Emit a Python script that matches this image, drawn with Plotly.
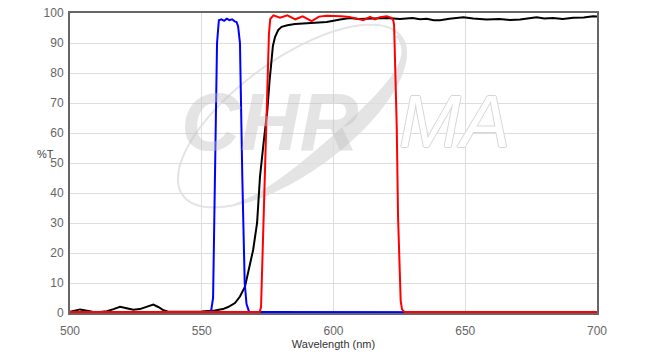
import numpy as np
import plotly.graph_objects as go

# ---- data ----
blue_wl = [500, 553.0, 553.5, 554.3, 555.0, 555.8, 556.5, 557.5, 558.5, 559.5, 560.5, 561.5, 562.5, 563.2,
           563.8, 564.5, 565.4, 566.3, 567.0, 568.0, 700]
blue_t = [0.2, 0.2, 0.4, 5, 45, 90, 97.6, 97.9, 97.4, 98.1, 97.6, 97.9, 97.2, 97.0,
          95.5, 90, 45, 10, 3, 0.3, 0.2]

red_wl = [500, 572.0, 572.5, 573.0, 574.0, 575.0, 575.5, 576.0, 577.2, 579.7, 582.5, 585.5, 588.3, 591.7,
          594.5, 597.5, 600.0, 603.0, 606.0, 608.8, 611.3, 613.9, 615.7, 617.6, 620.2, 622.0, 622.7,
          623.0, 623.5, 624.0, 624.5, 625.0, 625.5, 626.0, 627.0, 700]
red_t = [0.3, 0.3, 2, 17, 48, 80, 93, 98, 99.2, 98.4, 99.2, 97.9, 98.9, 97.3,
         98.8, 99.1, 99.1, 98.9, 98.7, 98.2, 97.6, 98.7, 97.9, 98.6, 98.9, 98.4, 97.5,
         96, 82, 62, 32, 13, 4, 1.2, 0.3, 0.3]

black_wl = [500, 501.5, 503.8, 506, 508.5, 511.4, 514, 516.5, 519, 521.5, 524, 526.5, 529, 531.6,
            533.5, 535.5, 537, 540, 545, 550, 555, 558, 560, 562.6, 564.5, 566.4, 568, 569.5, 571,
            572.1, 573.5, 574.9, 575.7, 576.3, 577.0, 577.8, 579, 580.3, 582.5, 585.4, 591, 597.4,
            602.5, 606.3, 609.5, 612.6, 616, 620.2, 625.2, 630, 632.8, 635.4, 638, 640.4, 644, 649.3,
            653, 658.1, 663, 667, 670.8, 674, 677.1, 680, 683.3, 687, 691, 695, 698.5, 700]
black_t = [0.4, 0.8, 1.2, 0.8, 0.4, 0.3, 0.6, 1.3, 2.1, 1.6, 1.1, 1.3, 2.0, 2.8,
           2.0, 0.9, 0.5, 0.4, 0.4, 0.5, 0.8, 1.3, 2.0, 3.3, 5.5, 8.8, 15, 21, 30,
           45.4, 57, 67.7, 77, 84, 89, 92, 94.3, 95.4, 95.9, 96.3, 96.7, 97.0,
           97.8, 98.3, 98.0, 98.1, 98.4, 98.3, 98.0, 98.3, 97.9, 98.1, 97.6, 97.6, 98.1, 98.6,
           98.2, 97.8, 98.0, 97.7, 97.8, 98.1, 98.6, 98.2, 98.3, 98.0, 98.4, 98.5, 98.9, 98.8]

x_ticks = [500, 550, 600, 650, 700]
y_ticks = list(range(0, 101, 10))

FONT = "Liberation Sans, Arial, sans-serif"

fig = go.Figure()
fig.add_trace(go.Scatter(x=black_wl, y=black_t, mode="lines", line=dict(color="#000000", width=2),
                         showlegend=False, hoverinfo="skip"))
fig.add_trace(go.Scatter(x=blue_wl, y=blue_t, mode="lines", line=dict(color="#0000ff", width=2),
                         showlegend=False, hoverinfo="skip"))
fig.add_trace(go.Scatter(x=red_wl, y=red_t, mode="lines", line=dict(color="#ff0000", width=2),
                         showlegend=False, hoverinfo="skip"))

# ---- watermark swoosh (decoration, in paper coords) ----
L, T, W, H = 70.0, 13.0, 527.0, 300.0


def to_paper(px, py):
    return (px - L) / W, (T + H - py) / H


def ellipse_pts(cx, cy, a, b, th, t):
    x = cx + a * np.cos(t) * np.cos(th) - b * np.sin(t) * np.sin(th)
    y = cy - (a * np.cos(t) * np.sin(th) + b * np.sin(t) * np.cos(th))
    return x, y


cx, cy, a, b, th = 292.0, 116.0, 135.0, 56.0, np.radians(36)
t_full = np.linspace(0, 2 * np.pi, 120)
ex, ey = ellipse_pts(cx, cy, a, b, th, t_full)
pts = [to_paper(x, y) for x, y in zip(ex, ey)]
path = "M " + " L ".join(f"{x:.4f},{y:.4f}" for x, y in pts) + " Z"
fig.add_shape(type="path", path=path, xref="paper", yref="paper", layer="below",
              line=dict(color="#e4e4e4", width=2), fillcolor="rgba(0,0,0,0)")

t_c = np.linspace(-2.4, 0.05, 60)
ox, oy = ellipse_pts(cx, cy, a, b, th, t_c)
ix, iy = ellipse_pts(cx, cy, a - 4, b - 16 * np.sin(np.pi * (t_c + 2.4) / 2.45), th, t_c)
cres = [to_paper(x, y) for x, y in zip(ox, oy)] + [to_paper(x, y) for x, y in zip(ix[::-1], iy[::-1])]
cpath = "M " + " L ".join(f"{x:.4f},{y:.4f}" for x, y in cres) + " Z"
fig.add_shape(type="path", path=cpath, xref="paper", yref="paper", layer="below",
              line=dict(color="#e4e4e4", width=1), fillcolor="#e4e4e4")

# watermark text
fig.add_annotation(text="CHR", xref="paper", yref="paper", x=(270 - L) / W, y=(T + H - 122) / H,
                   showarrow=False, xanchor="center", yanchor="middle",
                   font=dict(family=FONT, size=82, color="rgba(190,190,190,0.42)", weight="bold", style="italic"))
fig.add_annotation(text="MA", xref="paper", yref="paper", x=(454 - L) / W, y=(T + H - 122) / H,
                   showarrow=False, xanchor="center", yanchor="middle",
                   font=dict(family=FONT, size=74, color="#ffffff", style="italic",
                             shadow="1px 0 0 #d6d6d6, -1px 0 0 #d6d6d6, 0 1px 0 #d6d6d6, 0 -1px 0 #d6d6d6"))

fig.add_annotation(text="%T", xref="paper", yref="paper", x=(45 - L) / W, y=(T + H - 154) / H,
                   showarrow=False, xanchor="center", yanchor="middle",
                   font=dict(family=FONT, size=11, color="#444444"))

fig.update_layout(
    width=652, height=354,
    margin=dict(l=70, r=55, t=13, b=41),
    paper_bgcolor="white", plot_bgcolor="white",
    font=dict(family=FONT),
    xaxis=dict(range=[500, 700], tickvals=x_ticks, ticktext=[str(v) for v in x_ticks],
               showgrid=True, gridcolor="#dddddd", gridwidth=1, zeroline=False,
               showline=True, mirror=True, linecolor="#666666", linewidth=2, ticks="",
               ticklabelstandoff=6, automargin=False,
               tickfont=dict(size=12, color="#666666"),
               title=dict(text="Wavelength (nm)", font=dict(size=11, color="#333333"), standoff=2)),
    yaxis=dict(range=[0, 100], tickvals=y_ticks, ticktext=[str(v) for v in y_ticks],
               showgrid=True, gridcolor="#dddddd", gridwidth=1, zeroline=False,
               showline=True, mirror=True, linecolor="#666666", linewidth=2, ticks="",
               ticklabelstandoff=2, automargin=False,
               tickfont=dict(size=12, color="#666666")),
)

fig.write_html("out.html")
